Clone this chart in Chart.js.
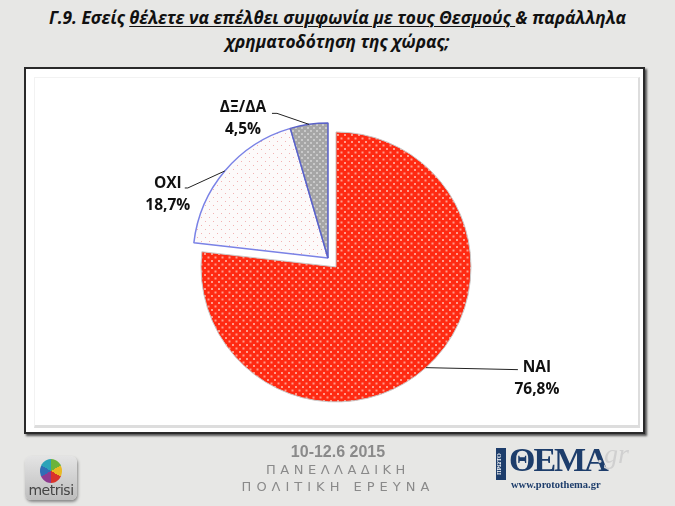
<!DOCTYPE html>
<html>
<head>
<meta charset="utf-8">
<script src="https://cdn.jsdelivr.net/npm/chart.js@4"></script>
<style>
  html, body { margin: 0; padding: 0; }
  body {
    width: 675px; height: 506px; position: relative; overflow: hidden;
    background: #e7e7e5;
    font-family: "Open Sans", "Noto Sans", sans-serif;
  }
  #title {
    position: absolute; left: 0; top: 6px; width: 675px; text-align: center;
    font-style: italic; font-weight: bold; font-size: 17.3px; line-height: 24px; color: #111;
  }
  #title u { text-decoration-thickness: 1px; text-underline-offset: 2px; }
  #panel {
    position: absolute; left: 24px; top: 67px; width: 617px; height: 363px;
    background: #fff; border: 2px solid #2a2a2a;
    box-shadow: 2px 2px 2px #555;
  }
  #panel .inner {
    position: absolute; left: 8px; top: 8px; right: 3px; bottom: 4px;
    border-right: 2px solid #ddd; border-bottom: 3px solid #ddd;
    border-left: 1px solid #f2f2f2; border-top: 1px solid #f2f2f2;
  }
  #chart { position: absolute; left: 0; top: 0; }
  .foot { position: absolute; text-align: center; color: #8a8a8a; width: 300px; left: 188px; }
  #date { top: 443px; font: bold 16px "Liberation Sans", Arial, sans-serif; color: #8a8a8a; }
  #l1 { top: 462px; font: 13px "DejaVu Sans", sans-serif; letter-spacing: 4.5px; }
  #l2 { top: 479px; font: 13px "DejaVu Sans", sans-serif; letter-spacing: 5px; }
  #metrisi {
    position: absolute; left: 25px; top: 456px; width: 52px; height: 44px;
    border-radius: 6px; background: linear-gradient(#e4e4e4, #bdbdbd);
    box-shadow: 1px 2px 3px #888;
  }
  #metrisi .dot {
    position: absolute; left: 15px; top: 3px; width: 22px; height: 24px; border-radius: 50%;
    background: conic-gradient(#6bb33b 0 60deg, #e8b923 60deg 120deg, #d9342b 120deg 180deg, #8e3a8f 180deg 240deg, #2f6db5 240deg 300deg, #2aa3b8 300deg 360deg);
  }
  #metrisi .txt {
    position: absolute; left: 0; width: 52px; top: 26px; text-align: center;
    font: 14px "DejaVu Sans", sans-serif; color: #444; letter-spacing: -0.5px;
  }
  #thema { position: absolute; left: 496px; top: 446px; }
  #thema .side {
    position: absolute; left: 0; top: 2px; width: 10px; height: 32px; background: #1d3d6b;
    color: #fff; font: bold 6px "Liberation Serif", serif; writing-mode: vertical-rl; transform: rotate(180deg);
    text-align: center;
  }
  #thema .big { position: absolute; left: 13px; top: -5px; font: bold 34px "Liberation Serif", serif; color: #1d3d6b; letter-spacing: -2px; }
  #thema .gr { position: absolute; left: 101px; top: -8px; font: italic 28px "Liberation Serif", serif; color: #d0d0d0; }
  #thema .url { position: absolute; left: 15px; top: 33px; font: bold 10.5px "Liberation Serif", serif; color: #1d3d6b; white-space: nowrap; }
</style>
</head>
<body>
<div id="title">Γ.9. Εσείς <u>θέλετε να επέλθει συμφωνία με τους Θεσμούς </u>&amp; παράλληλα<br>χρηματοδότηση της χώρας;</div>
<div id="panel"><div class="inner"></div></div>
<canvas id="chart" width="675" height="506"></canvas>
<div id="date" class="foot">10-12.6 2015</div>
<div id="l1" class="foot">ΠΑΝΕΛΛΑΔΙΚΗ</div>
<div id="l2" class="foot">ΠΟΛΙΤΙΚΗ ΕΡΕΥΝΑ</div>
<div id="metrisi"><div class="dot"></div><div class="txt">metrisi</div></div>
<div id="thema"><div class="side">ΠΡΩΤΟ</div><div class="big">ΘΕΜΑ</div><div class="gr">.gr</div><div class="url">www.protothema.gr</div></div>
<script>
// δεδομένα
const categories = ['NAI', 'OXI', 'ΔΞ/ΔΑ'];
const values = [76.8, 18.7, 4.5];
const valueLabels = ['76,8%', '18,7%', '4,5%'];
const explode = [12, 0, 0]; // απόσπαση φέτας (px)

// μοτίβα γεμίσματος (τελείες)
function makePattern(base, dot, w, h, dots, size) {
    const c = document.createElement('canvas');
    c.width = w; c.height = h;
    const g = c.getContext('2d');
    g.fillStyle = base;
    g.fillRect(0, 0, w, h);
    g.fillStyle = dot;
    dots.forEach(p => g.fillRect(p[0], p[1], size, size));
    return g.createPattern(c, 'repeat');
}

const ctx = document.getElementById('chart').getContext('2d');
const fills = [
    makePattern('#ff2a12', '#ff9c8c', 7, 7, [[1, 1], [4.5, 4.5]], 2),
    makePattern('#fdfafa', '#f3b3b3', 8, 8, [[1, 1], [5, 5]], 1),
    makePattern('#a6a6a6', '#c9c9c9', 6, 6, [[1, 1], [4, 4]], 2)
];

// μετατόπιση της φέτας προς τα έξω, κατά τη διχοτόμο της
const explodePlugin = {
    id: 'explodePlugin',
    afterDatasetsUpdate(chart) {
        chart.getDatasetMeta(0).data.forEach((arc, i) => {
            const mid = (arc.startAngle + arc.endAngle) / 2;
            arc.x += Math.cos(mid) * explode[i];
            arc.y += Math.sin(mid) * explode[i];
        });
    }
};

// ετικέτες με γραμμές οδηγούς
const labelLayout = [
    { dx: 111, dy: 0, path: [[92, 2]] },
    { dx: -57, dy: 13, path: [[-37, 17], [-40, 17]] },
    { dx: -66, dy: -17, path: [[-32, -11], [-37, -11]] }
];

const pieLabels = {
    id: 'pieLabels',
    afterDatasetsDraw(chart) {
        const c = chart.ctx;
        const meta = chart.getDatasetMeta(0);
        meta.data.forEach((arc, i) => {
            const mid = (arc.startAngle + arc.endAngle) / 2;
            const ax = arc.x + Math.cos(mid) * arc.outerRadius;
            const ay = arc.y + Math.sin(mid) * arc.outerRadius;
            const lay = labelLayout[i];
            c.save();
            c.strokeStyle = '#222';
            c.lineWidth = 1;
            c.beginPath();
            c.moveTo(ax, ay);
            lay.path.forEach(p => c.lineTo(ax + p[0], ay + p[1]));
            c.stroke();
            c.fillStyle = '#111';
            c.font = 'bold 15.5px "Open Sans", sans-serif';
            c.textAlign = 'center';
            c.textBaseline = 'middle';
            const tx = ax + lay.dx, ty = ay + lay.dy;
            c.fillText(categories[i], tx, ty);
            c.fillText(valueLabels[i], tx, ty + 22);
            c.restore();
        });
    }
};

new Chart(ctx, {
    type: 'pie',
    data: {
        labels: categories,
        datasets: [{
            data: values,
            backgroundColor: fills,
            borderColor: ['#c8c8c8', '#7a82e6', '#5a62c8'],
            borderWidth: [1, 1.5, 1.5]
        }]
    },
    options: {
        responsive: false,
        animation: false,
        radius: 135,
        layout: { padding: { left: 0, right: 19, top: 10, bottom: 0 } },
        plugins: { legend: { display: false }, tooltip: { enabled: false } }
    },
    plugins: [explodePlugin, pieLabels]
});
</script>
</body>
</html>
